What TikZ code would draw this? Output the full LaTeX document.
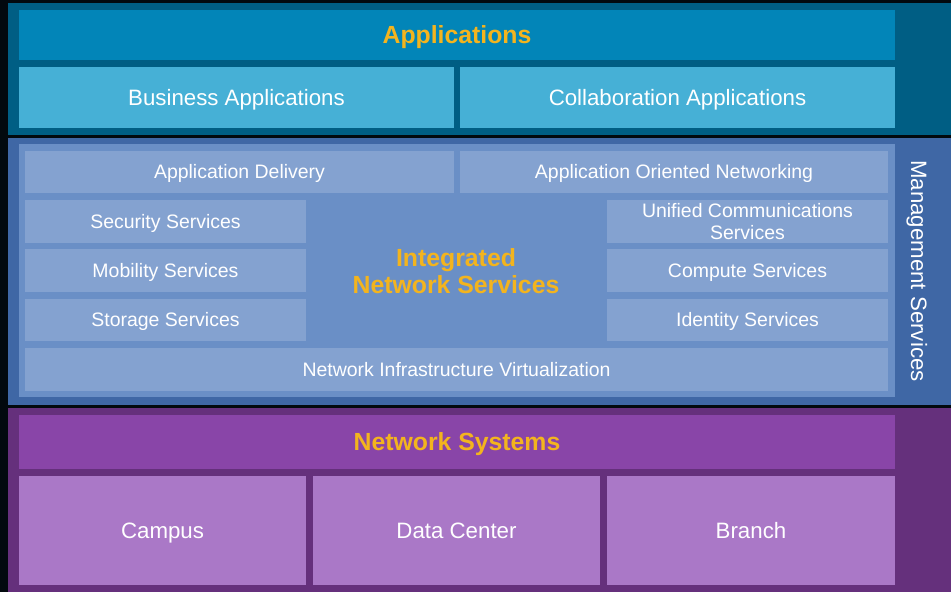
\documentclass[tikz,border=0pt]{standalone}
\usepackage{fontspec}
\setmainfont{Liberation Sans}
\usepackage{tikz}
\usepackage{xcolor}
\definecolor{backdrop}{RGB}{2,9,14}
\definecolor{apband}{RGB}{0,94,132}
\definecolor{aptitle}{RGB}{2,133,184}
\definecolor{apbox}{RGB}{70,176,214}
\definecolor{svband}{RGB}{63,103,165}
\definecolor{svpanel}{RGB}{106,143,198}
\definecolor{svbox}{RGB}{132,162,208}
\definecolor{nsband}{RGB}{101,48,124}
\definecolor{nstitle}{RGB}{137,69,168}
\definecolor{nsbox}{RGB}{170,120,199}
\definecolor{headtext}{RGB}{243,180,30}
\tikzset{
  wh/.style 2 args={minimum width=#1*0.75pt, minimum height=#2*0.75pt},
  headbox/.style={fill=#1, text=headtext, inner sep=0pt, align=center,
    text height=17.3pt, text depth=4pt,
    font=\fontsize{18.6}{20.3}\selectfont\bfseries},
  bigbox/.style={fill=#1, text=white, inner sep=0pt, align=center,
    text height=16pt, text depth=4pt,
    font=\fontsize{16.7}{20}\selectfont},
  smallbox/.style={fill=svbox, text=white, inner sep=0pt, align=center,
    font=\fontsize{14.6}{16.5}\selectfont},
  oneline/.style={text height=14.45pt, text depth=4pt}
}

\begin{document}
\begin{tikzpicture}[x=0.75pt, y=-0.75pt]
\useasboundingbox (0,0) rectangle (951,592);
\fill[backdrop] (0,0) rectangle (951,592);
\fill[apband] (8,3) rectangle (951,135);
\fill[svband] (8,138) rectangle (951,405);
\fill[nsband] (8,408) rectangle (951,592);
\fill[svpanel] (19,144) rectangle (895,397);
\node[headbox=aptitle, wh={876}{50}] (apps) at (457,35) {Applications};
\node[bigbox=apbox, wh={435}{61}] (business) at (236.5,97.5) {Business Applications};
\node[bigbox=apbox, wh={435}{61}] (collab) at (677.5,97.5) {Collaboration Applications};
\node[smallbox, oneline, wh={429}{42}] (appdel) at (239.5,172) {Application Delivery};
\node[smallbox, oneline, wh={428}{42}] (aon) at (674,172) {Application Oriented Networking};
\node[smallbox, oneline, wh={281}{43}] (security) at (165.5,221.5) {Security Services};
\node[smallbox, oneline, wh={281}{43}] (mobility) at (165.5,270.5) {Mobility Services};
\node[smallbox, oneline, wh={281}{42}] (storage) at (165.5,320) {Storage Services};
\node[smallbox, wh={281}{43}] (unified) at (747.5,221.5) {Unified Communications\\Services};
\node[smallbox, oneline, wh={281}{43}] (compute) at (747.5,270.5) {Compute Services};
\node[smallbox, oneline, wh={281}{42}] (identity) at (747.5,320) {Identity Services};
\node[smallbox, oneline, wh={863}{43}] (niv) at (456.5,369.5) {Network Infrastructure Virtualization};
\node[text=headtext, align=center, font=\fontsize{18.6}{20.3}\selectfont\bfseries] (ins) at (456,271) {Integrated\\Network Services};
\node[rotate=-90, text=white, font=\fontsize{16.7}{20}\selectfont] (mgmt) at (917,271) {Management Services};
\node[headbox=nstitle, wh={876}{54}] (netsys) at (457,442) {Network Systems};
\node[bigbox=nsbox, wh={287}{109}] (campus) at (162.5,530.5) {Campus};
\node[bigbox=nsbox, wh={287}{109}] (datacenter) at (456.5,530.5) {Data Center};
\node[bigbox=nsbox, wh={288}{109}] (branch) at (751,530.5) {Branch};
\end{tikzpicture}
\end{document}
